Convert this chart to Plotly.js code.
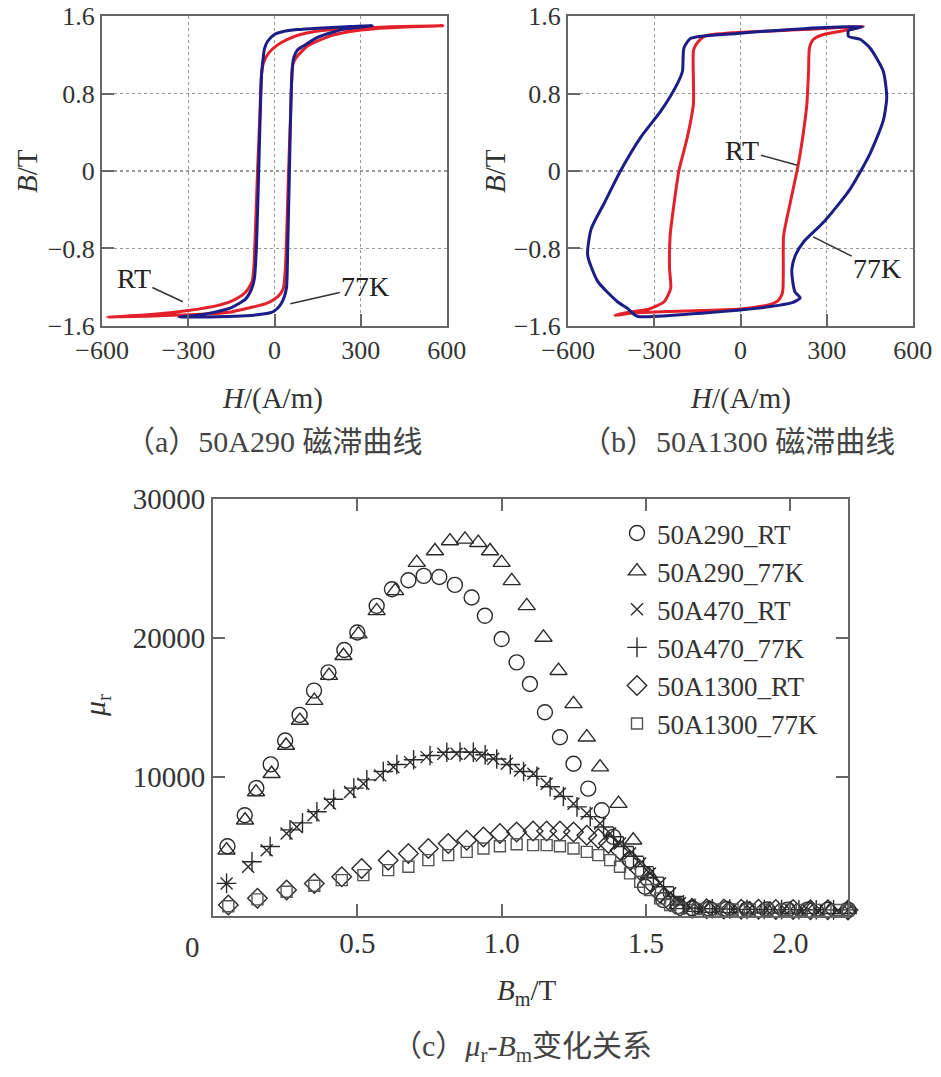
<!DOCTYPE html>
<html>
<head>
<meta charset="utf-8">
<script src="https://cdn.plot.ly/plotly-3.0.1.min.js"></script>
<style>
html,body{margin:0;padding:0;background:#fff;}
#chart{width:941px;height:1077px;}
</style>
</head>
<body>
<div id="chart"></div>
<script>
// ---------- (a) 50A290 hysteresis loops ----------
const a290RT_H = [-583,-400,-257,-150,-83,-30,-3,20,31,38,44,49,55,60,64,75,90,115,149,200,264,350,437,586,
                  400,300,205,140,90,45,10,-20,-38,-45,-52,-59,-65,-72,-78,-100,-140,-200,-300,-420,-583];
const a290RT_B = [-1.51,-1.495,-1.48,-1.455,-1.41,-1.37,-1.33,-1.27,-1.21,-1.0,-0.5,0,0.5,0.95,1.1,1.17,1.22,1.29,1.34,1.40,1.44,1.47,1.485,1.50,
                  1.49,1.475,1.46,1.44,1.41,1.36,1.30,1.22,1.12,1.0,0.5,0,-0.5,-1.0,-1.14,-1.25,-1.33,-1.39,-1.44,-1.48,-1.51];
const a290K_H = [-333,-198,-100,-48,-10,10,25,35,42,46,52,58,63,68,80,100,150,200,250,340,
                 250,149,80,31,0,-24,-35,-40,-45,-55,-63,-70,-80,-100,-150,-212,-270,-333];
const a290K_B = [-1.51,-1.505,-1.495,-1.48,-1.46,-1.42,-1.36,-1.29,-1.2,-0.8,0,0.8,1.1,1.18,1.25,1.29,1.38,1.43,1.47,1.50,
                 1.49,1.475,1.46,1.44,1.41,1.34,1.26,1.15,1.0,0,-0.8,-1.11,-1.22,-1.32,-1.41,-1.46,-1.49,-1.51];

// ---------- (b) 50A1300 hysteresis loops ----------
const b1300RT_H = [-437,-370,-250,-127,0,46,100,130,145,148,149,150,173,202,220,231,237,240,254,289,381,428,
                   220,-12,-127,-156,-164,-164,-185,-214,-231,-245,-247,-243,-266,-324,-393,-437];
const b1300RT_B = [-1.49,-1.465,-1.45,-1.44,-1.425,-1.41,-1.38,-1.34,-1.27,-1.21,-1.0,-0.67,-0.33,0.08,0.42,0.69,1.03,1.27,1.36,1.41,1.46,1.49,
                   1.46,1.43,1.39,1.30,1.24,0.69,0.35,0.01,-0.33,-0.67,-1.01,-1.21,-1.35,-1.43,-1.46,-1.49];
const b1300K_H = [424,220,-12,-173,-197,-202,-220,-277,-347,-416,-474,-520,-532,-497,-428,-393,-360,
                  -127,104,180,208,190,180,179,191,220,289,381,451,497,509,497,451,416,376,376,424];
const b1300K_B = [1.49,1.47,1.42,1.37,1.27,1.03,0.90,0.62,0.35,0.01,-0.33,-0.60,-0.87,-1.14,-1.35,-1.42,-1.50,
                  -1.465,-1.40,-1.36,-1.31,-1.25,-1.1,-1.01,-0.87,-0.73,-0.53,-0.19,0.18,0.52,0.76,1.03,1.27,1.36,1.39,1.45,1.49];

// ---------- (c) mu_r vs B_m ----------
const seriesNames = ['50A290_RT','50A290_77K','50A470_RT','50A470_77K','50A1300_RT','50A1300_77K'];
const bm290RT = [0.05,0.11,0.15,0.20,0.25,0.30,0.35,0.40,0.455,0.50,0.567,0.62,0.677,0.73,0.784,0.838,0.896,0.942,1.0,1.052,1.098,1.15,1.202,1.249,1.30,1.347,1.387,1.445,1.497,1.56,1.61,1.66,1.72,1.78,1.85,1.92,1.99,2.06,2.13,2.2];
const mu290RT = [5024,7249,9210,10909,12632,14474,16220,17535,19140,20406,22320,23518,24163,24474,24402,23828,22918,21603,19930,18253,16700,14662,12868,10959,9165,7608,5691,4019,2103,1148,700,560,520,500,480,470,460,450,450,440];
const bm290K = [0.047,0.111,0.149,0.203,0.253,0.301,0.351,0.402,0.452,0.504,0.567,0.631,0.706,0.769,0.821,0.873,0.919,0.96,1.0,1.035,1.087,1.145,1.197,1.249,1.295,1.341,1.405,1.456,1.51,1.56,1.61,1.66,1.72,1.79,1.86,1.93,2.0,2.07,2.14,2.2];
const mu290K = [4737,6890,8921,10241,12273,14067,15502,17296,18731,20289,21962,23397,25428,26268,26985,27105,26866,26268,25428,24115,22320,20047,17655,15263,12868,10716,8085,5455,3000,1500,800,600,540,510,490,480,470,460,450,450];
const bm470RT = [0.047,0.122,0.186,0.255,0.29,0.348,0.405,0.475,0.521,0.579,0.625,0.683,0.740,0.798,0.844,0.890,0.931,0.971,1.018,1.064,1.11,1.156,1.202,1.249,1.295,1.341,1.376,1.41,1.445,1.48,1.514,1.549,1.584,1.618,1.653,1.70,1.76,1.82,1.88,1.94,2.0,2.06,2.12,2.2];
const mu470RT = [2345,3540,4737,5933,6410,7249,8088,8921,9521,10120,10716,11074,11433,11677,11677,11677,11555,11318,10959,10478,10241,9521,8806,8085,7370,6653,5935,5218,4500,3782,3065,2347,1629,911,574,520,500,480,470,460,450,450,440,440];
const bm470K = [0.047,0.135,0.198,0.267,0.31,0.36,0.418,0.488,0.533,0.59,0.637,0.695,0.752,0.81,0.856,0.902,0.943,0.983,1.03,1.076,1.122,1.168,1.214,1.261,1.307,1.353,1.388,1.422,1.457,1.492,1.526,1.561,1.596,1.63,1.67,1.73,1.79,1.85,1.91,1.97,2.03,2.09,2.15,2.2];
const mu470K = [2345,3900,5000,6200,6700,7500,8400,9200,9800,10400,10900,11250,11550,11780,11800,11780,11600,11300,10900,10400,10050,9300,8600,7850,7150,6400,5700,5000,4300,3550,2800,2100,1400,800,560,520,500,480,470,460,450,450,440,440];
const bm1300RT = [0.053,0.154,0.255,0.351,0.446,0.515,0.607,0.677,0.746,0.815,0.879,0.937,0.994,1.052,1.109,1.156,1.202,1.249,1.295,1.335,1.37,1.41,1.445,1.48,1.514,1.549,1.584,1.618,1.66,1.71,1.77,1.83,1.89,1.95,2.01,2.07,2.13,2.2];
const mu1300RT = [789,1270,1866,2347,2820,3423,4019,4500,4859,5218,5455,5691,5935,6050,6122,6122,6122,6050,5813,5576,5218,4737,4019,3300,2460,1629,1026,667,560,520,500,490,480,470,460,450,450,440];
const bm1300K = [0.053,0.154,0.255,0.351,0.446,0.521,0.607,0.677,0.746,0.815,0.879,0.937,0.994,1.052,1.109,1.156,1.202,1.249,1.295,1.335,1.376,1.41,1.445,1.48,1.514,1.549,1.584,1.618,1.68,1.74,1.80,1.86,1.92,1.98,2.04,2.10,2.16,2.2];
const mu1300K = [700,1200,1750,2180,2580,2943,3300,3540,4019,4378,4615,4859,5024,5167,5100,5100,5024,4859,4615,4378,4019,3540,3065,2460,1866,1270,789,550,500,480,470,460,450,450,440,440,430,430];

// tick labels
const hTicks = [-600,-300,0,300,600];
const hTickText = ['\u2212600','\u2212300','0','300','600'];
const bTicks = [-1.6,-0.8,0,0.8,1.6];
const bTickText = ['\u22121.6','\u22120.8','0','0.8','1.6'];
const bmTicks = [0.5,1.0,1.5,2.0];
const bmTickText = ['0.5','1.0','1.5','2.0'];
const muTicks = [10000,20000,30000];
const muTickText = ['10000','20000','30000'];

const RED = '#e3212b', BLUE = '#1c1d86', MK = '#2a2a2a';
const SERIF = 'Liberation Serif, Times New Roman, Noto Sans CJK SC, serif';

function loop(x, y, color, xa, ya) {
  return {x: x, y: y, xaxis: xa, yaxis: ya, type: 'scatter', mode: 'lines',
          line: {color: color, width: 3, shape: 'spline', smoothing: 0.6}, showlegend: false, hoverinfo: 'skip'};
}
function pts(x, y, name, symbol, size, color) {
  return {x: x, y: y, xaxis: 'x3', yaxis: 'y3', type: 'scatter', mode: 'markers', name: name, cliponaxis: false,
          marker: {symbol: symbol, size: size, color: color, line: {color: color, width: 1.4}}};
}

const data = [
  loop(a290RT_H, a290RT_B, RED, 'x', 'y'),
  loop(a290K_H, a290K_B, BLUE, 'x', 'y'),
  loop(b1300RT_H, b1300RT_B, RED, 'x2', 'y2'),
  loop(b1300K_H, b1300K_B, BLUE, 'x2', 'y2'),
  pts(bm290RT, mu290RT, seriesNames[0], 'circle-open', 15, MK),
  pts(bm290K, mu290K, seriesNames[1], 'triangle-up-open', 15, MK),
  pts(bm470RT, mu470RT, seriesNames[2], 'x-thin-open', 12, MK),
  pts(bm470K, mu470K, seriesNames[3], 'cross-thin-open', 14, MK),
  pts(bm1300RT, mu1300RT, seriesNames[4], 'diamond-open', 15, MK),
  pts(bm1300K, mu1300K, seriesNames[5], 'square-open', 11, '#555')
];

const topAxis = {
  showgrid: true, gridcolor: '#9a9a9a', griddash: 'dot', gridwidth: 1.3,
  showline: true, mirror: true, linecolor: '#666', linewidth: 2,
  ticks: 'inside', ticklen: 12, tickwidth: 2, tickcolor: '#666', ticklabeloverflow: 'allow',
  zeroline: false, tickfont: {family: SERIF, size: 26, color: '#333'}, fixedrange: true
};
const botAxis = {
  showgrid: false, showline: true, mirror: 'ticks', linecolor: '#666', linewidth: 2,
  ticks: 'inside', ticklen: 12, tickwidth: 2, tickcolor: '#666', ticklabeloverflow: 'allow',
  zeroline: false, tickfont: {family: SERIF, size: 29, color: '#333'}, fixedrange: true
};

const W = 941, H = 1077;
const px = v => v / W, py = v => (H - v) / H;

function ann(text, x, y, size, extra) {
  return Object.assign({text: text, x: px(x), y: py(y), xref: 'paper', yref: 'paper', showarrow: false,
          xanchor: 'center', yanchor: 'middle', font: {family: SERIF, size: size, color: '#333'}}, extra || {});
}
function lab(text, xa, ya, xv, yv, axp, ayp) {
  return {text: text, x: xv, y: yv, xref: xa, yref: ya, showarrow: true, arrowhead: 0, arrowwidth: 1.6,
          arrowcolor: '#333', ax: axp, ay: ayp, standoff: 0, startstandoff: 0,
          font: {family: SERIF, size: 28, color: '#222'}};
}
const capFont = {family: SERIF, size: 30, color: '#444'};

const layout = {
  width: W, height: H, margin: {l: 0, r: 0, t: 0, b: 0},
  paper_bgcolor: '#fff', plot_bgcolor: '#fff', showlegend: true,
  xaxis: Object.assign({}, topAxis, {domain: [px(102), px(447)], range: [-600.5, 600.5], tickvals: hTicks, ticktext: hTickText, anchor: 'y'}),
  yaxis: Object.assign({}, topAxis, {domain: [py(326), py(16)], range: [-1.6005, 1.6005], tickvals: bTicks, ticktext: bTickText, anchor: 'x'}),
  xaxis2: Object.assign({}, topAxis, {domain: [px(568), px(913)], range: [-600.5, 600.5], tickvals: hTicks, ticktext: hTickText, anchor: 'y2'}),
  yaxis2: Object.assign({}, topAxis, {domain: [py(326), py(16)], range: [-1.6005, 1.6005], tickvals: bTicks, ticktext: bTickText, anchor: 'x2'}),
  xaxis3: Object.assign({}, botAxis, {domain: [px(213), px(848)], range: [0, 2.2], tickvals: bmTicks, ticktext: bmTickText, anchor: 'y3'}),
  yaxis3: Object.assign({}, botAxis, {domain: [py(916), py(499)], range: [0, 30010], tickvals: muTicks, ticktext: muTickText, anchor: 'x3'}),
  legend: {x: px(617), y: py(509), xanchor: 'left', yanchor: 'top', bgcolor: 'rgba(0,0,0,0)',
           font: {family: SERIF, size: 27, color: '#333'}, tracegroupgap: 0, itemwidth: 30},
  annotations: [
    ann('<i>B</i>/T', 27, 171, 29, {textangle: -90}),
    ann('<i>B</i>/T', 495, 171, 29, {textangle: -90}),
    ann('<i>H</i>/(A/m)', 272, 398, 29),
    ann('<i>H</i>/(A/m)', 740, 398, 29),
    ann('（a）50A290 磁滞曲线', 273, 442, 30, {font: capFont}),
    ann('（b）50A1300 磁滞曲线', 738, 442, 30, {font: capFont}),
    ann('<i>μ</i><sub>r</sub>', 97, 706, 30, {textangle: -90}),
    ann('<i>B</i><sub>m</sub>/T', 527, 992, 29),
    ann('（c）<i>μ</i><sub>r</sub>-<i>B</i><sub>m</sub>变化关系', 522, 1048, 30, {font: capFont}),
    ann('0', 192, 947, 29),
    lab('RT', 'x', 'y', -319, -1.35, -49, -23),
    lab('77K', 'x', 'y', 55, -1.37, 75, -17),
    lab('RT', 'x2', 'y2', 198, 0.06, -55, -15),
    lab('77K', 'x2', 'y2', 253, -0.68, 64, 32)
  ]
};

Plotly.newPlot('chart', data, layout, {staticPlot: true, displayModeBar: false});
</script>
</body>
</html>
